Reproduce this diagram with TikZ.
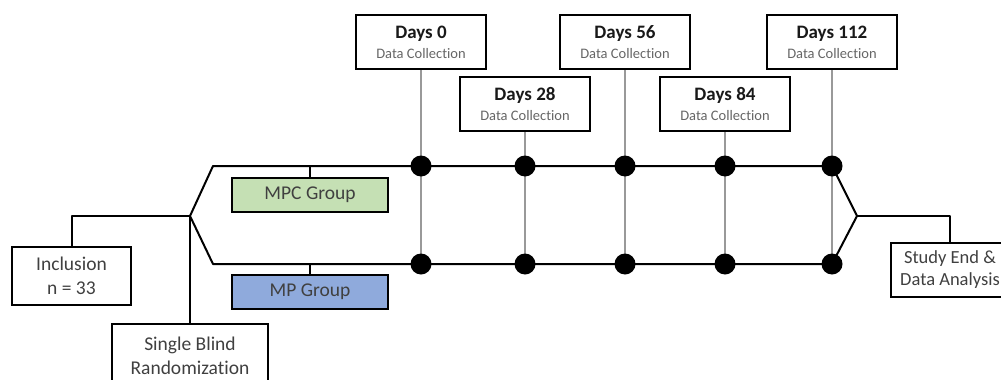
\documentclass[tikz,border=0pt]{standalone}
\usepackage{fontspec}
\setmainfont{Carlito}[Ligatures=NoCommon]
\begin{document}
\begin{tikzpicture}[x=1pt,y=-1pt,
  box/.style={draw=black,line width=2pt,fill=white,inner sep=0pt,align=center,text=black!75},
  daybox/.style={box,minimum width=130,minimum height=54},
  grpbox/.style={box,minimum width=156,minimum height=34,font=\fontsize{19.5}{23}\selectfont},
  lblbox/.style={box,font=\fontsize{19.5}{24.5}\selectfont},
  mainline/.style={draw=black,line width=2pt,line join=round},
  tick/.style={draw=black!40,line width=1.5pt},
  dot/.style={circle,fill=black,inner sep=0pt,minimum size=21},
  dtitle/.style={font=\fontsize{19}{21}\selectfont\bfseries,text=black!90},
  dsub/.style={font=\fontsize{14.5}{16}\selectfont,text=black!60}]
\useasboundingbox (0,0) rectangle (1001,380);

% coordinates of the main frame
\coordinate (br) at (190,216);
\coordinate (tl) at (213,166);
\coordinate (bl) at (213,264);
\coordinate (mg) at (857,216);

% top and bottom dot positions
\foreach \n/\x in {0/421,28/525,56/625,84/725,112/832}{
  \coordinate (t\n) at (\x,166);
  \coordinate (b\n) at (\x,264);
}

% day boxes
\node[daybox] (d0) at (421,42) {};
\node[daybox] (d28) at (525,104) {};
\node[daybox] (d56) at (625,42) {};
\node[daybox] (d84) at (725,104) {};
\node[daybox] (d112) at (832,42) {};

% gray ticks
\foreach \n in {0,28,56,84,112}{
  \draw[tick] (d\n.south) -- (b\n);
}

% main frame
\draw[mainline] (br) -- (tl) -- (t112) -- (mg) -- (b112) -- (bl) -- cycle;

% group boxes
\node[grpbox,fill={rgb,255:red,197;green,224;blue,180}] (mpc) at (310,195) {MPC Group};
\node[grpbox,fill={rgb,255:red,143;green,170;blue,220}] (mp) at (310,292) {MP Group};
\draw[mainline] (mpc.north) -- (mpc.north |- tl);
\draw[mainline] (mp.north) -- (mp.north |- bl);

% inclusion & randomization
\node[lblbox,minimum width=119,minimum height=58] (incl) at (71.5,276) {Inclusion\\n = 33};
\node[lblbox,minimum width=156,minimum height=64] (sb) at (190,356) {Single Blind\\Randomization};
\draw[mainline] (br) -| (incl.north);
\draw[mainline] (br) -- (sb.north);

% study end
\node[lblbox,minimum width=118,minimum height=54,font=\fontsize{18.5}{22}\selectfont] (st) at (950,270) {Study End \&\\Data Analysis};
\draw[mainline] (mg) -| (st.north);

% dots
\foreach \n in {0,28,56,84,112}{
  \node[dot] (dt\n) at (t\n) {};
  \node[dot] (db\n) at (b\n) {};
}

% day box texts
\foreach \n in {0,28,56,84,112}{
  \node[dtitle,anchor=base] (lab\n) at ([yshift=4]d\n.center) {Days \n};
  \node[dsub,anchor=base] (col\n) at ([yshift=-16]d\n.center) {Data Collection};
}
\end{tikzpicture}
\end{document}
